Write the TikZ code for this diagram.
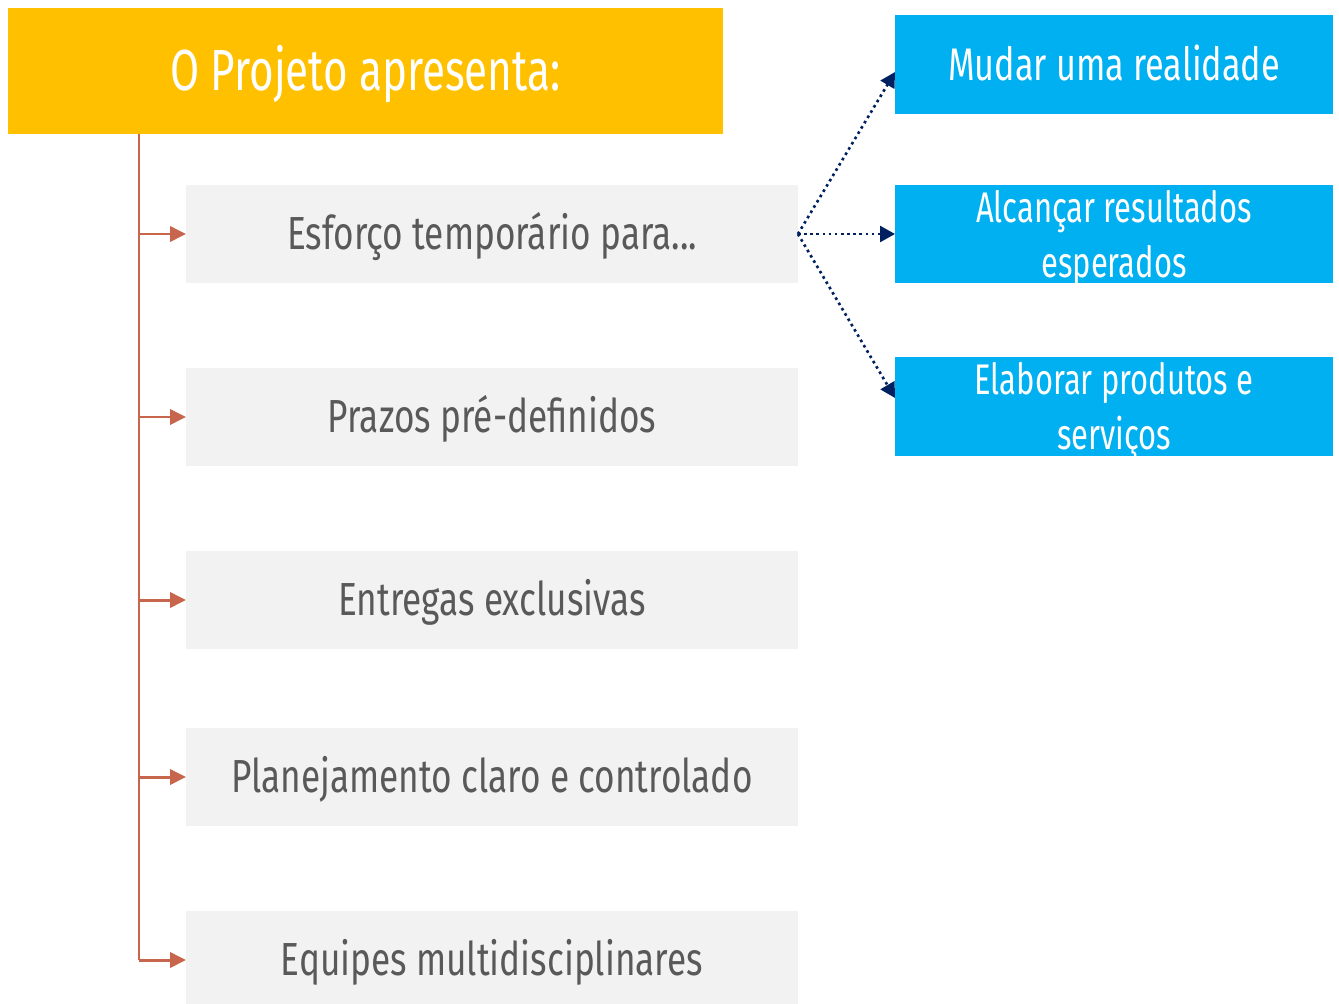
\documentclass[tikz,border=0pt]{standalone}
\usepackage{fontspec}
\setmainfont{Fira Sans}
\usetikzlibrary{arrows.meta}
\definecolor{titlebg}{HTML}{FFC000}
\definecolor{bluebg}{HTML}{00B0F0}
\definecolor{graybg}{HTML}{F2F2F2}
\definecolor{graytxt}{HTML}{595959}
\definecolor{spinecol}{RGB}{200,102,77}
\definecolor{navy}{HTML}{002060}
\newlength\natw
\newcommand\gfont{\fontsize{26.4}{30}\selectfont}
\newcommand\bfontx{\fontsize{26}{31.3}\selectfont}
\newcommand\bfonty{\fontsize{24.4}{31.3}\selectfont}
\newcommand\tfont{\fontsize{33}{36}\selectfont}
\newcommand\twolines[2]{\bfonty\raisebox{6.8pt}[0pt][0pt]{\scalebox{\bsxx}[1]{\begin{tabular}[t]{@{}c@{}}#1\\#2\end{tabular}}}}
\AtBeginDocument{%
  \settowidth\natw{\gfont Esforço temporário para...}%
  \pgfmathsetmacro\gsx{233.31/\natw}%
  \settowidth\natw{\bfontx Mudar uma realidade}%
  \pgfmathsetmacro\bsx{188.94/\natw}%
  \settowidth\natw{\bfonty Alcançar resultados}%
  \pgfmathsetmacro\bsxx{157.07/\natw}%
  \settowidth\natw{\tfont O Projeto apresenta:}%
  \pgfmathsetmacro\tsx{221.95/\natw}%
}
\tikzset{
  titlebox/.style={fill=titlebg, minimum width=14.3cm, minimum height=2.52cm, inner sep=0pt, outer sep=0pt, text=white, font=\tfont, text height=22.7pt, text depth=0pt},
  graybox/.style={fill=graybg, minimum width=12.24cm, minimum height=1.96cm, inner sep=0pt, outer sep=0pt, text=graytxt, font=\gfont, text height=18.2pt, text depth=0pt},
  bluebox/.style={fill=bluebg, minimum width=8.76cm, minimum height=1.98cm, inner sep=0pt, outer sep=0pt, text=white, font=\bfontx},
  spinearrow/.style={draw=spinecol, line width=1.7pt, -{Triangle[length=9pt,width=8.5pt]}},
  dotarrow/.style={draw=navy, line width=1.5pt, dotted, -{Triangle[length=8.5pt,width=9pt]}}
}
\begin{document}
\begin{tikzpicture}[x=0.02cm, y=-0.02cm]
\useasboundingbox[fill=white] (0,0) rectangle (1339,1004);
\begin{scope}
\clip (0,0) rectangle (1339,1004);
\node[titlebox] (title) at (365.5,71) {\scalebox{\tsx}[1]{O Projeto apresenta:}};
\node[graybox] (g1) at (492,234) {\scalebox{\gsx}[1]{Esforço temporário para...}};
\node[graybox] (g2) at (492,417) {\scalebox{\gsx}[1]{Prazos pré-definidos}};
\node[graybox] (g3) at (492,600) {\scalebox{\gsx}[1]{Entregas exclusivas}};
\node[graybox] (g4) at (492,777) {\scalebox{\gsx}[1]{Planejamento claro e controlado}};
\node[graybox] (g5) at (492,960) {\scalebox{\gsx}[1]{Equipes multidisciplinares}};
\node[bluebox, text height=18pt, text depth=0pt] (b1) at (1114,64.5) {\scalebox{\bsx}[1]{Mudar uma realidade}};
\node[bluebox] (b2) at (1114,234) {\twolines{Alcançar resultados}{esperados}};
\node[bluebox] (b3) at (1114,406.5) {\twolines{Elaborar produtos e}{serviços}};
\end{scope}
\coordinate (spine) at (139,134);
\draw[draw=spinecol, line width=1.7pt] (spine) -- (spine |- g5.west);
\foreach \g in {g1,g2,g3,g4,g5}
  \draw[spinearrow] (spine |- \g.west) -- (\g.west);
\draw[dotarrow] (g1.east) -- ([yshift=-0.15cm]b1.west);
\draw[dotarrow] (g1.east) -- (b2.west);
\draw[dotarrow] (g1.east) -- ([yshift=0.17cm]b3.west);
\end{tikzpicture}
\end{document}
